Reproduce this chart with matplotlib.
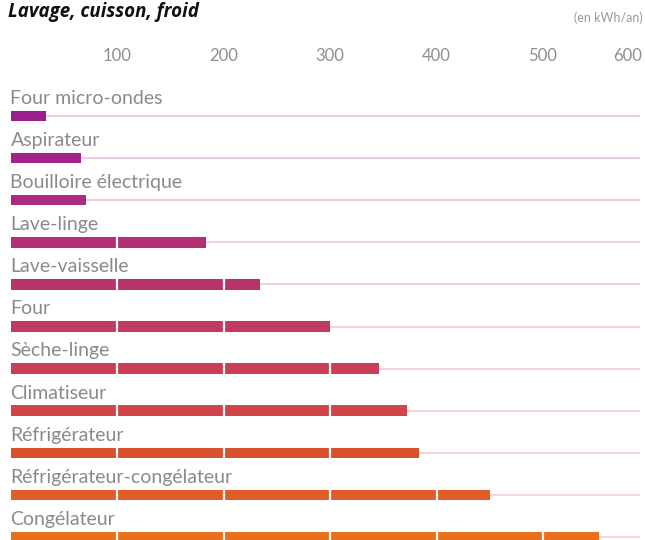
import matplotlib
matplotlib.use("Agg")
import matplotlib.pyplot as plt
import matplotlib.transforms as mtransforms
from matplotlib.colors import to_rgb

categories = ["Four micro-ondes", "Aspirateur", "Bouilloire électrique", "Lave-linge",
              "Lave-vaisselle", "Four", "Sèche-linge", "Climatiseur", "Réfrigérateur",
              "Réfrigérateur-congélateur", "Congélateur"]
values = [33, 66, 71, 184, 234, 300, 346, 372, 384, 450, 553]
colors = ["#9a1f8c", "#a2238a", "#aa2a80", "#b22f76", "#b9336b", "#c13a60", "#c93e56",
          "#d1454a", "#d9502f", "#e05d28", "#e8701c"]
tick_values = [100, 200, 300, 400, 500, 600]
tick_labels = ["100", "200", "300", "400", "500", "600"]

W, H = 645, 540
fig = plt.figure(figsize=(W / 100, H / 100), dpi=100)
x0, x1 = 10.5, 649.5
top_px, bot_px = 70, 540
row0_px, row_step = 116, 42.1
ax = fig.add_axes([x0 / W, 1 - bot_px / H, (x1 - x0) / W, (bot_px - top_px) / H])
ax.set_xlim(0, 600)
ax.set_ylim((bot_px - row0_px) / row_step, (top_px - row0_px) / row_step)
for s in ax.spines.values():
    s.set_visible(False)
ax.set_yticks([])
ax.xaxis.tick_top()
ax.set_xticks(tick_values)
ax.set_xticklabels(tick_labels)
ax.tick_params(axis="x", length=0, pad=4, labelsize=12, labelcolor="#8e8e8e")
for lab in ax.get_xticklabels():
    lab.set_fontfamily(["Lato", "DejaVu Sans"])
# shift the last label inside the figure
last = ax.get_xticklabels()[-1]
last.set_transform(last.get_transform() + mtransforms.ScaledTranslation(-16 / 72, 0, fig.dpi_scale_trans))

line_end = (640 - x0) / (x1 - x0) * 600
bar_h = 0.25
for i, (cat, v, c) in enumerate(zip(categories, values, colors)):
    r, g, b = to_rgb(c)
    light = (1 - 0.2 * (1 - r), 1 - 0.2 * (1 - g) - 0.03, 1 - 0.2 * (1 - b))
    ax.hlines(i, 0, line_end, color=light, lw=1.4, zorder=1)
    ax.barh(i, v, height=bar_h, color=c, zorder=2)
    seps = [t for t in range(100, 600, 100) if t < v]
    if seps:
        ax.vlines(seps, i - bar_h / 2, i + bar_h / 2, color="white", lw=1.6, zorder=3)
    ax.text(0, i - 0.42, cat, fontsize=14, color="#8a8a8a", va="center", ha="left",
            family=["Lato", "DejaVu Sans"])

fig.text(8 / W, 1 - 12 / H, "Lavage, cuisson, froid", fontsize=13.5, fontweight="bold",
         fontstyle="italic", color="#111111", va="center", ha="left",
         family=["Open Sans", "DejaVu Sans"])
fig.text(643 / W, 1 - 18 / H, "(en kWh/an)", fontsize=9, color="#9a9a9a", va="center",
         ha="right", family=["Lato", "DejaVu Sans"])

fig.savefig("out.png", dpi=100)
